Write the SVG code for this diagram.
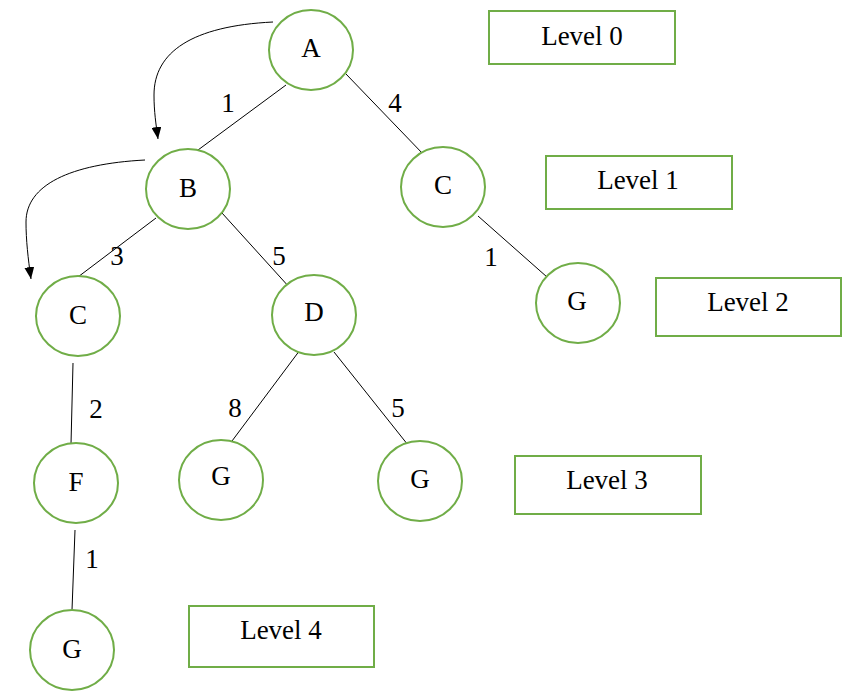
<svg xmlns="http://www.w3.org/2000/svg" width="854" height="692" viewBox="0 0 854 692" font-family="Liberation Serif, Times New Roman, DejaVu Serif, serif" font-size="27">
<defs>
<marker id="ah" markerUnits="userSpaceOnUse" markerWidth="12" markerHeight="10" refX="12" refY="5" orient="auto">
<path d="M0,0 L12,5 L0,10 z" fill="#000"/>
</marker>
<style>
.n ellipse{fill:#fff;stroke:#70AD47;stroke-width:2}
.lv rect{fill:#fff;stroke:#70AD47;stroke-width:2}
text{font-family:'Liberation Serif','Times New Roman','DejaVu Serif',serif;font-size:27px;fill:#000;text-anchor:middle}
.e line{stroke:#000;stroke-width:1}
.e path{stroke:#000;stroke-width:1;fill:none}
</style>
</defs>
<rect width="854" height="692" fill="#fff"/>
<g id="connectors" class="e">
<line x1="286" y1="85" x2="198" y2="150"/>
<line x1="346" y1="74" x2="424" y2="155"/>
<line x1="156" y1="218" x2="70" y2="283"/>
<line x1="222" y1="213" x2="290" y2="288"/>
<line x1="478" y1="216" x2="547" y2="277"/>
<line x1="73" y1="363" x2="71" y2="444"/>
<line x1="300" y1="350" x2="232" y2="441"/>
<line x1="334" y1="352" x2="408" y2="445"/>
<line x1="75" y1="530" x2="72" y2="610"/>
<path d="M273,22 C192,26 154,52 154,95 C154,112 156,124 158,139" marker-end="url(#ah)"/>
<path d="M145,160 C70,164 26,185 26,222 C26,240 28,258 31,279" marker-end="url(#ah)"/>
<text x="228" y="112">1</text>
<text x="395" y="112">4</text>
<text x="117" y="265">3</text>
<text x="279" y="265">5</text>
<text x="491" y="266">1</text>
<text x="96" y="418">2</text>
<text x="235" y="417">8</text>
<text x="398" y="417">5</text>
<text x="92" y="568">1</text>
</g>
<g id="nodeA" class="n"><ellipse cx="311" cy="50" rx="42" ry="40"/><text x="311" y="57">A</text></g>
<g id="nodeB" class="n"><ellipse cx="188" cy="189" rx="42" ry="40"/><text x="188" y="197">B</text></g>
<g id="nodeC1" class="n"><ellipse cx="443" cy="187" rx="42" ry="40"/><text x="443" y="194">C</text></g>
<g id="nodeC2" class="n"><ellipse cx="78" cy="316" rx="42" ry="40"/><text x="78" y="324">C</text></g>
<g id="nodeD" class="n"><ellipse cx="314" cy="315" rx="42" ry="40"/><text x="314" y="321">D</text></g>
<g id="nodeG1" class="n"><ellipse cx="578" cy="303" rx="42" ry="40"/><text x="577" y="310">G</text></g>
<g id="nodeF" class="n"><ellipse cx="76" cy="483" rx="42" ry="40"/><text x="76" y="491">F</text></g>
<g id="nodeG2" class="n"><ellipse cx="221" cy="480" rx="42" ry="40"/><text x="221" y="485">G</text></g>
<g id="nodeG3" class="n"><ellipse cx="420" cy="481" rx="42" ry="40"/><text x="420" y="488">G</text></g>
<g id="nodeG4" class="n"><ellipse cx="72" cy="650" rx="42" ry="40"/><text x="72" y="658">G</text></g>
<g id="level0" class="lv"><rect x="489" y="11" width="186" height="53"/><text x="582" y="45">Level 0</text></g>
<g id="level1" class="lv"><rect x="546" y="156" width="186" height="53"/><text x="638" y="189">Level 1</text></g>
<g id="level2" class="lv"><rect x="656" y="278" width="185" height="58"/><text x="748" y="311">Level 2</text></g>
<g id="level3" class="lv"><rect x="515" y="456" width="186" height="58"/><text x="607" y="489">Level 3</text></g>
<g id="level4" class="lv"><rect x="189" y="606" width="185" height="61"/><text x="281" y="639">Level 4</text></g>
</svg>
